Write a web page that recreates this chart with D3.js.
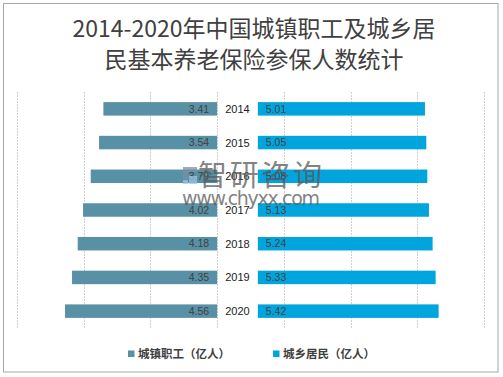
<!DOCTYPE html>
<html>
<head>
<meta charset="UTF-8" />
<title>城镇职工及城乡居民基本养老保险参保人数</title>
<style>
	html, body { margin: 0; padding: 0; background: #fff; overflow: hidden; }
	svg { display: block; }
	.val { font-family: "Liberation Sans", sans-serif; font-size: 10.5px; fill: #404040; }
	.year { font-family: "Liberation Sans", sans-serif; font-size: 11px; fill: #222; }
	.title { font-family: "Noto Sans CJK SC", sans-serif; font-size: 23px; fill: #404040; }
	.legend { font-family: "Noto Sans CJK SC", sans-serif; font-size: 11.5px; font-weight: bold; fill: #404040; }
</style>
<script src="https://cdnjs.cloudflare.com/ajax/libs/d3/7.8.5/d3.min.js"></script>
</head>
<body>
<svg></svg>
<script>
const years = ['2014', '2015', '2016', '2017', '2018', '2019', '2020'];
const urbanWorkers = [3.41, 3.54, 3.79, 4.02, 4.18, 4.35, 4.56];   // 城镇职工（亿人）
const ruralResidents = [5.01, 5.05, 5.08, 5.13, 5.24, 5.33, 5.42]; // 城乡居民（亿人）
const seriesNames = ['城镇职工（亿人）', '城乡居民（亿人）'];
const colors = ['#5891a6', '#00a5dd'];
const gridTicks = [-6, -4, -2, 0, 2, 4, 6, 8];
const gap = 1.22; // invisible spacer holding the year labels

const width = 503, height = 377;
const svg = d3.select('svg').attr('width', width).attr('height', height);

// outer frame
svg.append('rect')
	.attr('x', 3.5).attr('y', 3.5)
	.attr('width', 494.5).attr('height', 368.5)
	.attr('fill', 'none').attr('stroke', '#a6a6a6').attr('stroke-width', 1);

// title
const title = svg.append('text').attr('class', 'title').attr('text-anchor', 'middle');
title.append('tspan').attr('x', 254).attr('y', 37).text('2014-2020年中国城镇职工及城乡居');
title.append('tspan').attr('x', 254).attr('y', 68).text('民基本养老保险参保人数统计');

const x = d3.scaleLinear().domain([-6, 8]).range([17, 484]);
const y = d3.scaleBand().domain(years).range([92, 328]).paddingInner(0.6).paddingOuter(0.3);

// gridlines
svg.append('g').selectAll('line')
	.data(gridTicks)
	.join('line')
	.attr('x1', d => Math.round(x(d)) + 0.5)
	.attr('x2', d => Math.round(x(d)) + 0.5)
	.attr('y1', 92).attr('y2', 328)
	.attr('stroke', '#d0d0d0')
	.attr('stroke-dasharray', '2,1');

// left bars
svg.append('g').selectAll('rect')
	.data(years)
	.join('rect')
	.attr('x', (d, i) => x(-urbanWorkers[i]))
	.attr('y', d => y(d))
	.attr('width', (d, i) => x(0) - x(-urbanWorkers[i]))
	.attr('height', y.bandwidth())
	.attr('fill', colors[0]);

// right bars
svg.append('g').selectAll('rect')
	.data(years)
	.join('rect')
	.attr('x', x(gap))
	.attr('y', d => y(d))
	.attr('width', (d, i) => x(gap + ruralResidents[i]) - x(gap))
	.attr('height', y.bandwidth())
	.attr('fill', colors[1]);

const mid = d => y(d) + y.bandwidth() / 2;

svg.append('g').selectAll('text')
	.data(years)
	.join('text')
	.attr('class', 'val')
	.attr('x', x(0) - 8)
	.attr('y', d => mid(d))
	.attr('dy', '0.36em')
	.attr('text-anchor', 'end')
	.text((d, i) => urbanWorkers[i].toFixed(2));

svg.append('g').selectAll('text')
	.data(years)
	.join('text')
	.attr('class', 'val')
	.attr('x', x(gap) + 8)
	.attr('y', d => mid(d))
	.attr('dy', '0.36em')
	.text((d, i) => ruralResidents[i].toFixed(2));

svg.append('g').selectAll('text')
	.data(years)
	.join('text')
	.attr('class', 'year')
	.attr('x', x(gap / 2))
	.attr('y', d => mid(d))
	.attr('dy', '0.36em')
	.attr('text-anchor', 'middle')
	.text(d => d);

// legend
const legendX = [128, 273];
const legend = svg.append('g').selectAll('g')
	.data(seriesNames)
	.join('g')
	.attr('transform', (d, i) => `translate(${legendX[i]},354)`);
legend.append('rect')
	.attr('x', 0).attr('y', -3.5)
	.attr('width', 6.5).attr('height', 6.5)
	.attr('fill', (d, i) => colors[i]);
legend.append('text')
	.attr('class', 'legend')
	.attr('x', 10).attr('dy', '0.36em')
	.text(d => d);

// watermark
const wm = svg.append('g').attr('opacity', 0.75);
wm.append('path')
	.attr('d', 'M183,167 h14 v5 h-9 v7 h-5 z')
	.attr('fill', '#7c8fa6');
wm.append('rect')
	.attr('x', 189).attr('y', 176).attr('width', 8).attr('height', 8)
	.attr('fill', '#9cc6e8');
wm.append('rect')
	.attr('x', 183).attr('y', 180).attr('width', 5).attr('height', 4)
	.attr('fill', '#9cc6e8');
wm.append('text')
	.attr('x', 198).attr('y', 186)
	.attr('font-family', '"Noto Sans CJK SC", sans-serif')
	.attr('font-size', 29)
	.attr('fill', '#5a5a5a')
	.attr('textLength', 124)
	.text('智研咨询');
wm.append('text')
	.attr('x', 182).attr('y', 205)
	.attr('font-family', '"DejaVu Sans", sans-serif')
	.attr('font-size', 19)
	.attr('fill', '#5a5a5a')
	.attr('textLength', 138)
	.text('www.chyxx.com');
</script>
</body>
</html>
